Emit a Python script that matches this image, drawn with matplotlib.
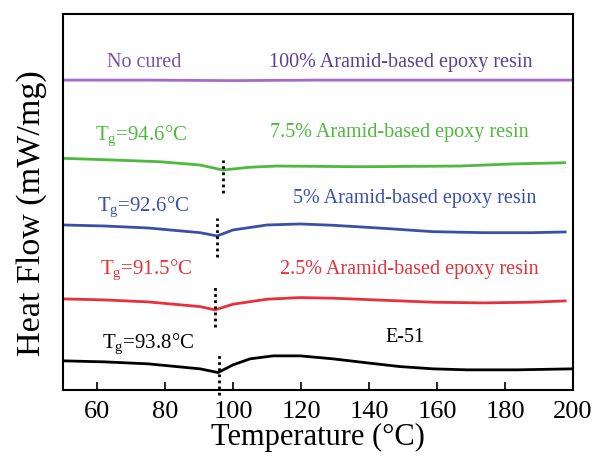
import matplotlib
matplotlib.use("Agg")
import matplotlib.pyplot as plt

plt.rcParams['font.family'] = ['Liberation Serif', 'DejaVu Serif']
plt.rcParams['mathtext.fontset'] = 'custom'
plt.rcParams['mathtext.rm'] = 'Liberation Serif'
plt.rcParams['mathtext.it'] = 'Liberation Serif'

# Data (temperature in °C, heat flow in arbitrary offset units)
t_none = [50, 75, 100, 125, 150, 175, 200]
hf_none = [3.10, 3.10, 3.095, 3.10, 3.10, 3.10, 3.10]

t_75 = [50, 65, 78.5, 90.3, 97.0, 105, 113, 137.4, 166.8, 181.5, 197.6]
hf_75 = [2.317, 2.30, 2.283, 2.25, 2.20, 2.228, 2.24, 2.233, 2.24, 2.26, 2.273]

t_5 = [50, 62, 75, 90.3, 95.3, 100, 110, 119.7, 129.4, 144, 158.8, 173.5, 188, 197.7]
hf_5 = [1.65, 1.64, 1.62, 1.573, 1.54, 1.60, 1.65, 1.66, 1.647, 1.617, 1.583, 1.573, 1.573, 1.58]

t_25 = [50, 62, 75, 90.3, 94.7, 100, 110, 119.7, 129.4, 144, 158.8, 173.5, 188, 197.7]
hf_25 = [0.91, 0.90, 0.88, 0.833, 0.80, 0.857, 0.907, 0.923, 0.917, 0.897, 0.877, 0.87, 0.877, 0.89]

t_e51 = [50, 62, 75, 90.3, 95.6, 100, 105, 111.8, 119.7, 129.4, 139.4, 149, 158.8, 168.8, 183.5, 200]
hf_e51 = [0.29, 0.28, 0.26, 0.21, 0.173, 0.25, 0.31, 0.34, 0.34, 0.31, 0.27, 0.233, 0.21, 0.20, 0.20, 0.21]

tg_pos = [97.0, 95.3, 94.8, 96.0]
tg_ymin = [1.97, 1.33, 0.63, -0.05]
tg_ymax = [2.30, 1.72, 1.03, 0.35]

series_t = [t_none, t_75, t_5, t_25, t_e51]
series_hf = [hf_none, hf_75, hf_5, hf_25, hf_e51]
line_colors = ['#a56ac8', '#4dba3c', '#3a4fa6', '#e8303a', '#000000']

left_labels = ['No cured', r'T$_{\mathrm{g}}$=94.6°C', r'T$_{\mathrm{g}}$=92.6°C',
               r'T$_{\mathrm{g}}$=91.5°C', r'T$_{\mathrm{g}}$=93.8°C']
right_labels = ['100% Aramid-based epoxy resin', '7.5% Aramid-based epoxy resin',
                '5% Aramid-based epoxy resin', '2.5% Aramid-based epoxy resin', 'E-51']
left_colors = ['#7d4fae', '#4dba3c', '#3a4fb0', '#e8303a', '#000000']
right_colors = ['#5c3f98', '#4dba3c', '#3a4fb0', '#e8303a', '#000000']
left_sizes = [14.5, 15, 15, 15, 15]
left_xy = [(74, 3.28), (73, 2.54), (73.5, 1.83), (74.4, 1.20), (75, 0.46)]
right_xy = [(149.4, 3.28), (149, 2.58), (153.5, 1.91), (152, 1.20), (150.5, 0.52)]

fig = plt.figure(figsize=(5.95, 4.57), dpi=100)
ax = fig.add_axes([0.106, 0.147, 0.857, 0.822])

for t, hf, c in zip(series_t, series_hf, line_colors):
    ax.plot(t, hf, color=c, lw=2.0, solid_joinstyle='round')

for x, y0, y1 in zip(tg_pos, tg_ymin, tg_ymax):
    ax.plot([x, x], [y0, y1], color='black', lw=2.0, ls=(0, (1, 1.2)), clip_on=False)

for s, (x, y), c, fs in zip(left_labels, left_xy, left_colors, left_sizes):
    ax.text(x, y, s, color=c, fontsize=fs, ha='center', va='center')
for s, (x, y), c in zip(right_labels, right_xy, right_colors):
    ax.text(x, y, s, color=c, fontsize=14.5, ha='center', va='center')

ax.set_xlim(50, 200)
ax.set_ylim(0, 3.76)
ax.set_xticks([60, 80, 100, 120, 140, 160, 180, 200])
ax.set_yticks([])
ax.tick_params(axis='x', direction='in', length=6, width=1.2, labelsize=19, pad=8, top=False)
for sp in ax.spines.values():
    sp.set_linewidth(1.5)
ax.set_xlabel('Temperature (°C)', fontsize=22, labelpad=0)
ax.set_ylabel('Heat Flow (mW/mg)', fontsize=24.5)
ax.yaxis.set_label_coords(-0.032, 0.47)

fig.savefig('out.png', dpi=100)
